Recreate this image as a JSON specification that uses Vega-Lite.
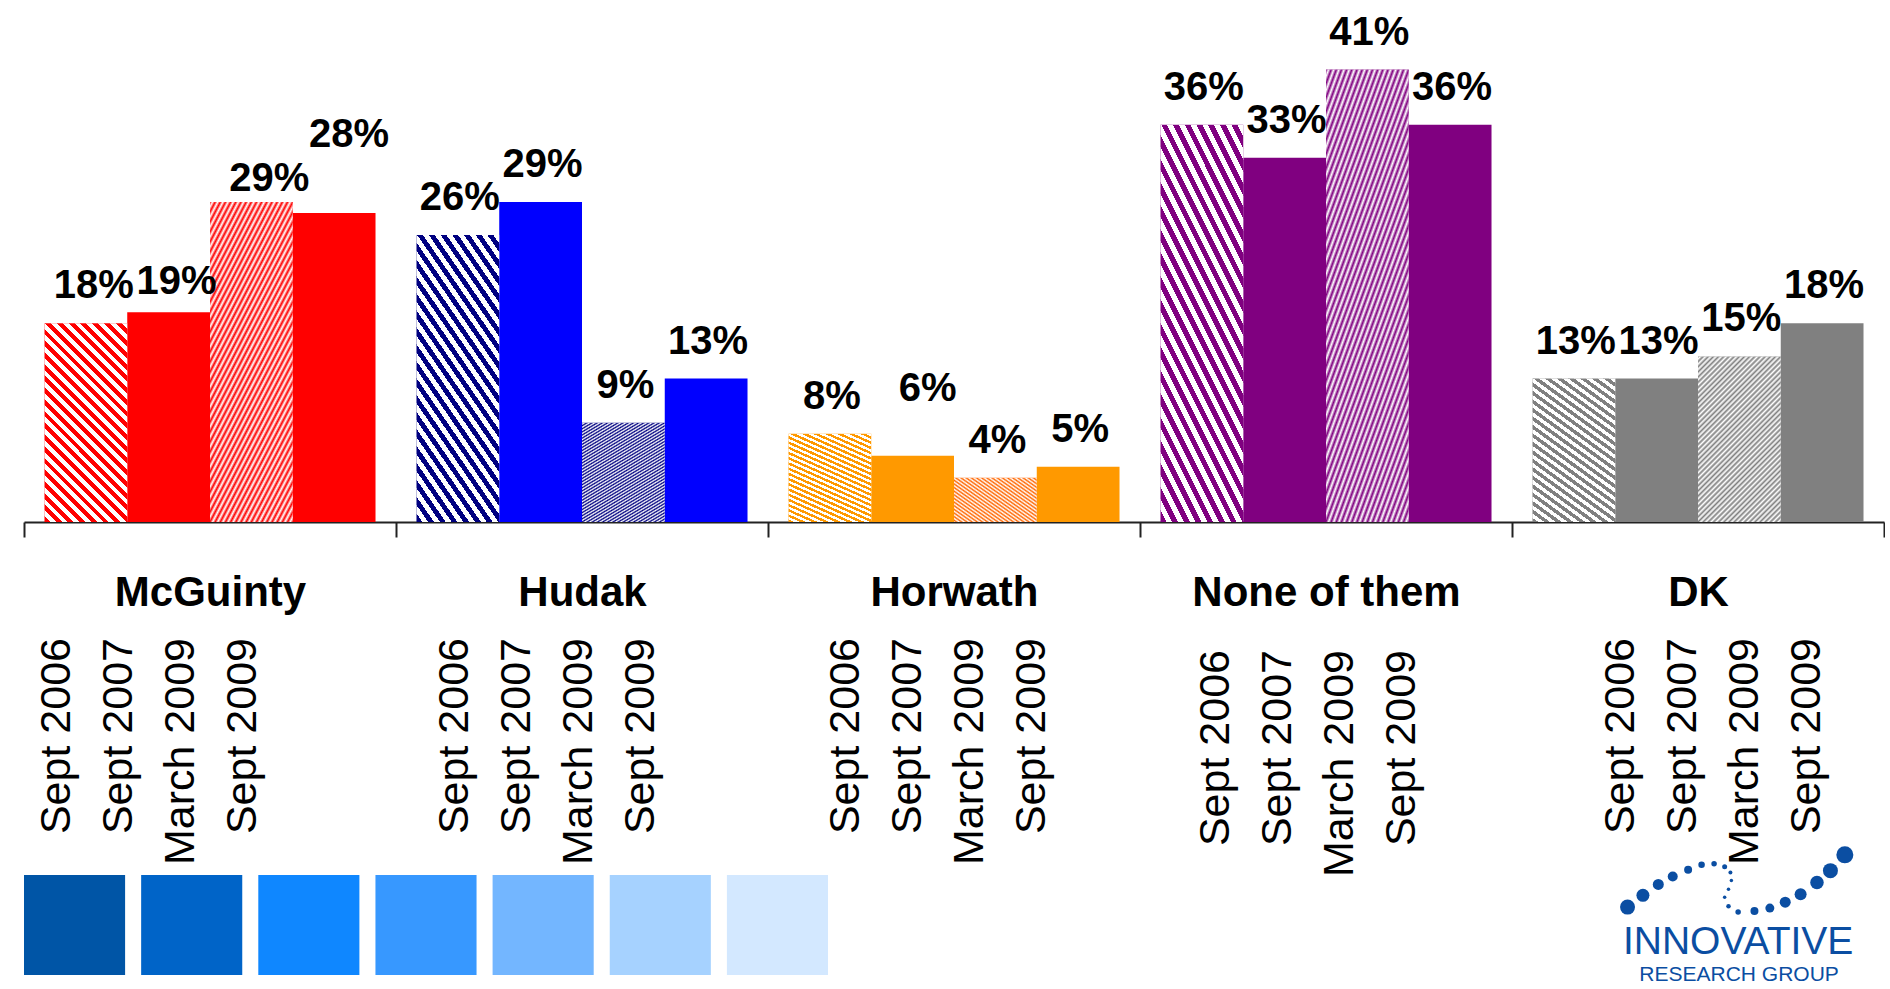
{
  "$schema": "https://vega.github.io/schema/vega-lite/v6.json",
  "background": "white",
  "padding": {"left": 23, "top": 0, "right": 0, "bottom": 0},
  "config": {"view": {"stroke": null}, "font": "Liberation Sans"},
  "datasets": {
    "bars": [
      {"group": "McGuinty", "series": "Sept 2006", "value": 0.18},
      {"group": "McGuinty", "series": "Sept 2007", "value": 0.19},
      {"group": "McGuinty", "series": "March 2009", "value": 0.29},
      {"group": "McGuinty", "series": "Sept 2009", "value": 0.28},
      {"group": "Hudak", "series": "Sept 2006", "value": 0.26},
      {"group": "Hudak", "series": "Sept 2007", "value": 0.29},
      {"group": "Hudak", "series": "March 2009", "value": 0.09},
      {"group": "Hudak", "series": "Sept 2009", "value": 0.13},
      {"group": "Horwath", "series": "Sept 2006", "value": 0.08},
      {"group": "Horwath", "series": "Sept 2007", "value": 0.06},
      {"group": "Horwath", "series": "March 2009", "value": 0.04},
      {"group": "Horwath", "series": "Sept 2009", "value": 0.05},
      {"group": "None of them", "series": "Sept 2006", "value": 0.36},
      {"group": "None of them", "series": "Sept 2007", "value": 0.33},
      {"group": "None of them", "series": "March 2009", "value": 0.41},
      {"group": "None of them", "series": "Sept 2009", "value": 0.36},
      {"group": "DK", "series": "Sept 2006", "value": 0.13},
      {"group": "DK", "series": "Sept 2007", "value": 0.13},
      {"group": "DK", "series": "March 2009", "value": 0.15},
      {"group": "DK", "series": "Sept 2009", "value": 0.18}
    ],
    "squares": [
      {"sq": "1"}, {"sq": "2"}, {"sq": "3"}, {"sq": "4"}, {"sq": "5"}, {"sq": "6"}, {"sq": "7"}
    ],
    "logo": [
      {"x": 12, "y": 62, "d": 15},
      {"x": 28, "y": 50, "d": 13},
      {"x": 44, "y": 39, "d": 11},
      {"x": 59, "y": 31, "d": 10},
      {"x": 75, "y": 24, "d": 8},
      {"x": 89, "y": 19, "d": 6.5},
      {"x": 102, "y": 18, "d": 5.5},
      {"x": 113, "y": 21, "d": 5},
      {"x": 119, "y": 27, "d": 4},
      {"x": 120, "y": 35, "d": 3.5},
      {"x": 117, "y": 44, "d": 3.5},
      {"x": 113, "y": 52, "d": 3.5},
      {"x": 117, "y": 61, "d": 4.5},
      {"x": 127, "y": 67, "d": 5.5},
      {"x": 144, "y": 66, "d": 8},
      {"x": 160, "y": 63, "d": 9},
      {"x": 176, "y": 57, "d": 11},
      {"x": 192, "y": 49, "d": 12},
      {"x": 209, "y": 37, "d": 13.5},
      {"x": 223, "y": 25, "d": 15},
      {"x": 238, "y": 9, "d": 17}
    ]
  },
  "resolve": {"scale": {"x": "independent", "y": "independent", "xOffset": "independent", "color": "independent", "size": "independent"}},
  "spacing": 25,
  "vconcat": [
    {
      "width": 1860,
      "height": 522,
      "data": {"name": "bars"},
      "encoding": {
        "x": {
          "field": "group", "type": "nominal",
          "sort": ["McGuinty", "Hudak", "Horwath", "None of them", "DK"],
          "scale": {"paddingInner": 0, "paddingOuter": 0},
          "axis": {
            "title": null, "labelAngle": 0, "labelFont": "Liberation Sans", "labelFontSize": 42,
            "labelFontWeight": "bold", "labelColor": "#000000", "labelPadding": 35, "labelLimit": 0,
            "tickBand": "extent", "tickSize": 15, "tickColor": "#222222", "tickWidth": 2,
            "domainColor": "#222222", "domainWidth": 2, "grid": false
          }
        },
        "xOffset": {
          "field": "series", "type": "nominal",
          "sort": ["Sept 2006", "Sept 2007", "March 2009", "Sept 2009"],
          "scale": {"paddingInner": 0, "paddingOuter": 0.2475}
        },
        "y": {"field": "value", "type": "quantitative", "scale": {"domain": [0, 0.473]}, "axis": null},
        "text": {"field": "value", "type": "quantitative", "format": ".0%"}
      },
      "layer": [
        {
          "mark": {"type": "bar", "strokeWidth": 0},
          "encoding": {
            "fill": {
              "condition": [
                {"test": "datum.group === 'Hudak' && (datum.series === 'Sept 2006' || datum.series === 'March 2009')", "value": "#000080"},
                {"test": "datum.group === 'Horwath' && datum.series === 'March 2009'", "value": "#FF6600"}
              ],
              "field": "group", "type": "nominal",
              "scale": {"domain": ["McGuinty", "Hudak", "Horwath", "None of them", "DK"], "range": ["#FF0000", "#0000FF", "#FF9900", "#800080", "#808080"]},
              "legend": null
            }
          }
        },
        {
          "mark": {"type": "bar", "strokeWidth": 0},
          "encoding": {
            "fill": {
              "condition": [
                {"test": "datum.series === 'Sept 2006'", "value": {"gradient": "linear", "x1": 0, "y1": 1, "x2": 0.503, "y2": -0.207, "stops": [
                  {"offset": 0, "color": "rgba(255,255,255,0)"}, {"offset": 0.020833, "color": "rgba(255,255,255,0)"},
                  {"offset": 0.020833, "color": "#ffffff"}, {"offset": 0.041667, "color": "#ffffff"},
                  {"offset": 0.041667, "color": "rgba(255,255,255,0)"}, {"offset": 0.0625, "color": "rgba(255,255,255,0)"},
                  {"offset": 0.0625, "color": "#ffffff"}, {"offset": 0.083333, "color": "#ffffff"},
                  {"offset": 0.083333, "color": "rgba(255,255,255,0)"}, {"offset": 0.104167, "color": "rgba(255,255,255,0)"},
                  {"offset": 0.104167, "color": "#ffffff"}, {"offset": 0.125, "color": "#ffffff"},
                  {"offset": 0.125, "color": "rgba(255,255,255,0)"}, {"offset": 0.145833, "color": "rgba(255,255,255,0)"},
                  {"offset": 0.145833, "color": "#ffffff"}, {"offset": 0.166667, "color": "#ffffff"},
                  {"offset": 0.166667, "color": "rgba(255,255,255,0)"}, {"offset": 0.1875, "color": "rgba(255,255,255,0)"},
                  {"offset": 0.1875, "color": "#ffffff"}, {"offset": 0.208333, "color": "#ffffff"},
                  {"offset": 0.208333, "color": "rgba(255,255,255,0)"}, {"offset": 0.229167, "color": "rgba(255,255,255,0)"},
                  {"offset": 0.229167, "color": "#ffffff"}, {"offset": 0.25, "color": "#ffffff"},
                  {"offset": 0.25, "color": "rgba(255,255,255,0)"}, {"offset": 0.270833, "color": "rgba(255,255,255,0)"},
                  {"offset": 0.270833, "color": "#ffffff"}, {"offset": 0.291667, "color": "#ffffff"},
                  {"offset": 0.291667, "color": "rgba(255,255,255,0)"}, {"offset": 0.3125, "color": "rgba(255,255,255,0)"},
                  {"offset": 0.3125, "color": "#ffffff"}, {"offset": 0.333333, "color": "#ffffff"},
                  {"offset": 0.333333, "color": "rgba(255,255,255,0)"}, {"offset": 0.354167, "color": "rgba(255,255,255,0)"},
                  {"offset": 0.354167, "color": "#ffffff"}, {"offset": 0.375, "color": "#ffffff"},
                  {"offset": 0.375, "color": "rgba(255,255,255,0)"}, {"offset": 0.395833, "color": "rgba(255,255,255,0)"},
                  {"offset": 0.395833, "color": "#ffffff"}, {"offset": 0.416667, "color": "#ffffff"},
                  {"offset": 0.416667, "color": "rgba(255,255,255,0)"}, {"offset": 0.4375, "color": "rgba(255,255,255,0)"},
                  {"offset": 0.4375, "color": "#ffffff"}, {"offset": 0.458333, "color": "#ffffff"},
                  {"offset": 0.458333, "color": "rgba(255,255,255,0)"}, {"offset": 0.479167, "color": "rgba(255,255,255,0)"},
                  {"offset": 0.479167, "color": "#ffffff"}, {"offset": 0.5, "color": "#ffffff"},
                  {"offset": 0.5, "color": "rgba(255,255,255,0)"}, {"offset": 0.520833, "color": "rgba(255,255,255,0)"},
                  {"offset": 0.520833, "color": "#ffffff"}, {"offset": 0.541667, "color": "#ffffff"},
                  {"offset": 0.541667, "color": "rgba(255,255,255,0)"}, {"offset": 0.5625, "color": "rgba(255,255,255,0)"},
                  {"offset": 0.5625, "color": "#ffffff"}, {"offset": 0.583333, "color": "#ffffff"},
                  {"offset": 0.583333, "color": "rgba(255,255,255,0)"}, {"offset": 0.604167, "color": "rgba(255,255,255,0)"},
                  {"offset": 0.604167, "color": "#ffffff"}, {"offset": 0.625, "color": "#ffffff"},
                  {"offset": 0.625, "color": "rgba(255,255,255,0)"}, {"offset": 0.645833, "color": "rgba(255,255,255,0)"},
                  {"offset": 0.645833, "color": "#ffffff"}, {"offset": 0.666667, "color": "#ffffff"},
                  {"offset": 0.666667, "color": "rgba(255,255,255,0)"}, {"offset": 0.6875, "color": "rgba(255,255,255,0)"},
                  {"offset": 0.6875, "color": "#ffffff"}, {"offset": 0.708333, "color": "#ffffff"},
                  {"offset": 0.708333, "color": "rgba(255,255,255,0)"}, {"offset": 0.729167, "color": "rgba(255,255,255,0)"},
                  {"offset": 0.729167, "color": "#ffffff"}, {"offset": 0.75, "color": "#ffffff"},
                  {"offset": 0.75, "color": "rgba(255,255,255,0)"}, {"offset": 0.770833, "color": "rgba(255,255,255,0)"},
                  {"offset": 0.770833, "color": "#ffffff"}, {"offset": 0.791667, "color": "#ffffff"},
                  {"offset": 0.791667, "color": "rgba(255,255,255,0)"}, {"offset": 0.8125, "color": "rgba(255,255,255,0)"},
                  {"offset": 0.8125, "color": "#ffffff"}, {"offset": 0.833333, "color": "#ffffff"},
                  {"offset": 0.833333, "color": "rgba(255,255,255,0)"}, {"offset": 0.854167, "color": "rgba(255,255,255,0)"},
                  {"offset": 0.854167, "color": "#ffffff"}, {"offset": 0.875, "color": "#ffffff"},
                  {"offset": 0.875, "color": "rgba(255,255,255,0)"}, {"offset": 0.895833, "color": "rgba(255,255,255,0)"},
                  {"offset": 0.895833, "color": "#ffffff"}, {"offset": 0.916667, "color": "#ffffff"},
                  {"offset": 0.916667, "color": "rgba(255,255,255,0)"}, {"offset": 0.9375, "color": "rgba(255,255,255,0)"},
                  {"offset": 0.9375, "color": "#ffffff"}, {"offset": 0.958333, "color": "#ffffff"},
                  {"offset": 0.958333, "color": "rgba(255,255,255,0)"}, {"offset": 0.979167, "color": "rgba(255,255,255,0)"},
                  {"offset": 0.979167, "color": "#ffffff"}, {"offset": 1, "color": "#ffffff"}
                ]}},
                {"test": "datum.series === 'March 2009'", "value": {"gradient": "linear", "x1": 0, "y1": 0, "x2": 0.6, "y2": 1.2, "stops": [
                  {"offset": 0, "color": "rgba(255,255,255,0)"}, {"offset": 0.0104, "color": "#ffffff"},
                  {"offset": 0.0208, "color": "rgba(255,255,255,0)"}, {"offset": 0.0313, "color": "#ffffff"},
                  {"offset": 0.0417, "color": "rgba(255,255,255,0)"}, {"offset": 0.0521, "color": "#ffffff"},
                  {"offset": 0.0625, "color": "rgba(255,255,255,0)"}, {"offset": 0.0729, "color": "#ffffff"},
                  {"offset": 0.0833, "color": "rgba(255,255,255,0)"}, {"offset": 0.0938, "color": "#ffffff"},
                  {"offset": 0.1042, "color": "rgba(255,255,255,0)"}, {"offset": 0.1146, "color": "#ffffff"},
                  {"offset": 0.125, "color": "rgba(255,255,255,0)"}, {"offset": 0.1354, "color": "#ffffff"},
                  {"offset": 0.1458, "color": "rgba(255,255,255,0)"}, {"offset": 0.1563, "color": "#ffffff"},
                  {"offset": 0.1667, "color": "rgba(255,255,255,0)"}, {"offset": 0.1771, "color": "#ffffff"},
                  {"offset": 0.1875, "color": "rgba(255,255,255,0)"}, {"offset": 0.1979, "color": "#ffffff"},
                  {"offset": 0.2083, "color": "rgba(255,255,255,0)"}, {"offset": 0.2188, "color": "#ffffff"},
                  {"offset": 0.2292, "color": "rgba(255,255,255,0)"}, {"offset": 0.2396, "color": "#ffffff"},
                  {"offset": 0.25, "color": "rgba(255,255,255,0)"}, {"offset": 0.2604, "color": "#ffffff"},
                  {"offset": 0.2708, "color": "rgba(255,255,255,0)"}, {"offset": 0.2813, "color": "#ffffff"},
                  {"offset": 0.2917, "color": "rgba(255,255,255,0)"}, {"offset": 0.3021, "color": "#ffffff"},
                  {"offset": 0.3125, "color": "rgba(255,255,255,0)"}, {"offset": 0.3229, "color": "#ffffff"},
                  {"offset": 0.3333, "color": "rgba(255,255,255,0)"}, {"offset": 0.3438, "color": "#ffffff"},
                  {"offset": 0.3542, "color": "rgba(255,255,255,0)"}, {"offset": 0.3646, "color": "#ffffff"},
                  {"offset": 0.375, "color": "rgba(255,255,255,0)"}, {"offset": 0.3854, "color": "#ffffff"},
                  {"offset": 0.3958, "color": "rgba(255,255,255,0)"}, {"offset": 0.4063, "color": "#ffffff"},
                  {"offset": 0.4167, "color": "rgba(255,255,255,0)"}, {"offset": 0.4271, "color": "#ffffff"},
                  {"offset": 0.4375, "color": "rgba(255,255,255,0)"}, {"offset": 0.4479, "color": "#ffffff"},
                  {"offset": 0.4583, "color": "rgba(255,255,255,0)"}, {"offset": 0.4688, "color": "#ffffff"},
                  {"offset": 0.4792, "color": "rgba(255,255,255,0)"}, {"offset": 0.4896, "color": "#ffffff"},
                  {"offset": 0.5, "color": "rgba(255,255,255,0)"}, {"offset": 0.5104, "color": "#ffffff"},
                  {"offset": 0.5208, "color": "rgba(255,255,255,0)"}, {"offset": 0.5313, "color": "#ffffff"},
                  {"offset": 0.5417, "color": "rgba(255,255,255,0)"}, {"offset": 0.5521, "color": "#ffffff"},
                  {"offset": 0.5625, "color": "rgba(255,255,255,0)"}, {"offset": 0.5729, "color": "#ffffff"},
                  {"offset": 0.5833, "color": "rgba(255,255,255,0)"}, {"offset": 0.5938, "color": "#ffffff"},
                  {"offset": 0.6042, "color": "rgba(255,255,255,0)"}, {"offset": 0.6146, "color": "#ffffff"},
                  {"offset": 0.625, "color": "rgba(255,255,255,0)"}, {"offset": 0.6354, "color": "#ffffff"},
                  {"offset": 0.6458, "color": "rgba(255,255,255,0)"}, {"offset": 0.6563, "color": "#ffffff"},
                  {"offset": 0.6667, "color": "rgba(255,255,255,0)"}, {"offset": 0.6771, "color": "#ffffff"},
                  {"offset": 0.6875, "color": "rgba(255,255,255,0)"}, {"offset": 0.6979, "color": "#ffffff"},
                  {"offset": 0.7083, "color": "rgba(255,255,255,0)"}, {"offset": 0.7188, "color": "#ffffff"},
                  {"offset": 0.7292, "color": "rgba(255,255,255,0)"}, {"offset": 0.7396, "color": "#ffffff"},
                  {"offset": 0.75, "color": "rgba(255,255,255,0)"}, {"offset": 0.7604, "color": "#ffffff"},
                  {"offset": 0.7708, "color": "rgba(255,255,255,0)"}, {"offset": 0.7813, "color": "#ffffff"},
                  {"offset": 0.7917, "color": "rgba(255,255,255,0)"}, {"offset": 0.8021, "color": "#ffffff"},
                  {"offset": 0.8125, "color": "rgba(255,255,255,0)"}, {"offset": 0.8229, "color": "#ffffff"},
                  {"offset": 0.8333, "color": "rgba(255,255,255,0)"}, {"offset": 0.8438, "color": "#ffffff"},
                  {"offset": 0.8542, "color": "rgba(255,255,255,0)"}, {"offset": 0.8646, "color": "#ffffff"},
                  {"offset": 0.875, "color": "rgba(255,255,255,0)"}, {"offset": 0.8854, "color": "#ffffff"},
                  {"offset": 0.8958, "color": "rgba(255,255,255,0)"}, {"offset": 0.9063, "color": "#ffffff"},
                  {"offset": 0.9167, "color": "rgba(255,255,255,0)"}, {"offset": 0.9271, "color": "#ffffff"},
                  {"offset": 0.9375, "color": "rgba(255,255,255,0)"}, {"offset": 0.9479, "color": "#ffffff"},
                  {"offset": 0.9583, "color": "rgba(255,255,255,0)"}, {"offset": 0.9688, "color": "#ffffff"},
                  {"offset": 0.9792, "color": "rgba(255,255,255,0)"}, {"offset": 0.9896, "color": "#ffffff"},
                  {"offset": 1, "color": "rgba(255,255,255,0)"}
                ]}}
              ],
              "value": "rgba(255,255,255,0)"
            }
          }
        },
        {
          "transform": [{"filter": "datum.group !== 'McGuinty' && !(datum.group === 'Horwath' && datum.series === 'Sept 2007')"}],
          "mark": {"type": "text", "font": "Liberation Sans", "fontSize": 40, "fontWeight": "bold", "color": "#000000", "baseline": "alphabetic", "align": "center", "dy": -25, "dx": 2}
        },
        {
          "transform": [{"filter": "datum.group === 'McGuinty' && datum.series === 'Sept 2006'"}],
          "mark": {"type": "text", "font": "Liberation Sans", "fontSize": 40, "fontWeight": "bold", "color": "#000000", "baseline": "alphabetic", "align": "center", "dy": -25, "dx": 8}
        },
        {
          "transform": [{"filter": "datum.group === 'McGuinty' && datum.series === 'Sept 2007'"}],
          "mark": {"type": "text", "font": "Liberation Sans", "fontSize": 40, "fontWeight": "bold", "color": "#000000", "baseline": "alphabetic", "align": "center", "dy": -18, "dx": 8}
        },
        {
          "transform": [{"filter": "datum.group === 'McGuinty' && datum.series === 'March 2009'"}],
          "mark": {"type": "text", "font": "Liberation Sans", "fontSize": 40, "fontWeight": "bold", "color": "#000000", "baseline": "alphabetic", "align": "center", "dy": -11, "dx": 18}
        },
        {
          "transform": [{"filter": "datum.group === 'McGuinty' && datum.series === 'Sept 2009'"}],
          "mark": {"type": "text", "font": "Liberation Sans", "fontSize": 40, "fontWeight": "bold", "color": "#000000", "baseline": "alphabetic", "align": "center", "dy": -66, "dx": 15}
        },
        {
          "transform": [{"filter": "datum.group === 'Horwath' && datum.series === 'Sept 2007'"}],
          "mark": {"type": "text", "font": "Liberation Sans", "fontSize": 40, "fontWeight": "bold", "color": "#000000", "baseline": "alphabetic", "align": "center", "dy": -55, "dx": 15}
        }
      ]
    },
    {
      "resolve": {"scale": {"x": "independent", "y": "independent", "color": "independent", "size": "independent"}},
      "bounds": "flush",
      "spacing": 208,
      "vconcat": [
        {
          "data": {"name": "bars"},
          "facet": {"column": {"field": "group", "type": "nominal", "sort": ["McGuinty", "Hudak", "Horwath", "None of them", "DK"], "header": null}},
          "spacing": 0,
          "bounds": "flush",
          "spec": {
            "width": 372,
            "height": 10,
            "encoding": {
              "x": {"field": "series", "type": "nominal", "scale": {"domain": ["pad1", "Sept 2006", "Sept 2007", "March 2009", "Sept 2009", "pad2"], "paddingInner": 0, "paddingOuter": 0}, "axis": null},
              "y": {"datum": 1, "type": "quantitative", "scale": {"domain": [0, 1]}, "axis": null},
              "text": {"field": "series", "type": "nominal"}
            },
            "layer": [
              {"transform": [{"filter": "datum.group === 'McGuinty'"}], "mark": {"type": "text", "angle": 270, "align": "right", "baseline": "middle", "font": "Liberation Sans", "fontSize": 43, "color": "#000000", "dy": -60}},
              {"transform": [{"filter": "datum.group === 'Hudak'"}], "mark": {"type": "text", "angle": 270, "align": "right", "baseline": "middle", "font": "Liberation Sans", "fontSize": 43, "color": "#000000", "dy": -34}},
              {"transform": [{"filter": "datum.group === 'Horwath'"}], "mark": {"type": "text", "angle": 270, "align": "right", "baseline": "middle", "font": "Liberation Sans", "fontSize": 43, "color": "#000000", "dy": -15}},
              {"transform": [{"filter": "datum.group === 'None of them'"}], "mark": {"type": "text", "angle": 270, "align": "right", "baseline": "middle", "font": "Liberation Sans", "fontSize": 43, "color": "#000000", "dy": -17, "dx": -12}},
              {"transform": [{"filter": "datum.group === 'DK'"}], "mark": {"type": "text", "angle": 270, "align": "right", "baseline": "middle", "font": "Liberation Sans", "fontSize": 43, "color": "#000000", "dy": 16}}
            ]
          }
        },
        {
          "resolve": {"scale": {"x": "independent", "y": "independent", "color": "independent", "size": "independent"}},
          "spacing": 787,
          "hconcat": [
            {
              "width": 804,
              "height": 129,
              "data": {"name": "squares"},
              "mark": {"type": "bar", "strokeWidth": 0},
              "encoding": {
                "x": {"field": "sq", "type": "nominal", "scale": {"paddingInner": 0.137, "paddingOuter": 0}, "axis": null},
                "y": {"datum": "s", "type": "nominal", "scale": {"paddingInner": 0, "paddingOuter": 0.145, "align": 1}, "axis": null},
                "color": {"field": "sq", "type": "nominal", "scale": {"domain": ["1", "2", "3", "4", "5", "6", "7"], "range": ["#0055A6", "#0064C8", "#0F87FF", "#3798FF", "#73B6FF", "#A6D2FF", "#D3E8FF"]}, "legend": null}
              }
            },
            {
              "width": 250,
              "height": 138,
              "layer": [
                {
                  "data": {"name": "logo"},
                  "mark": {"type": "circle", "opacity": 1, "color": "#0B4EA2"},
                  "encoding": {
                    "x": {"field": "x", "type": "quantitative", "scale": {"domain": [0, 250]}, "axis": null},
                    "y": {"field": "y", "type": "quantitative", "scale": {"domain": [0, 138], "reverse": true}, "axis": null},
                    "size": {"field": "d", "type": "quantitative", "scale": {"type": "pow", "exponent": 2, "domain": [0, 17], "range": [0, 289]}, "legend": null}
                  }
                },
                {
                  "data": {"values": [{}]},
                  "mark": {"type": "text", "text": "INNOVATIVE", "font": "Liberation Sans", "fontSize": 39, "color": "#0B4EA2", "align": "center", "baseline": "alphabetic"},
                  "encoding": {
                    "x": {"datum": 127, "type": "quantitative", "axis": null},
                    "y": {"datum": 110, "type": "quantitative", "axis": null}
                  }
                },
                {
                  "data": {"values": [{}]},
                  "mark": {"type": "text", "text": "RESEARCH GROUP", "font": "Liberation Sans", "fontSize": 21, "color": "#0B4EA2", "align": "center", "baseline": "alphabetic"},
                  "encoding": {
                    "x": {"datum": 128, "type": "quantitative", "axis": null},
                    "y": {"datum": 137, "type": "quantitative", "axis": null}
                  }
                }
              ]
            }
          ]
        }
      ]
    }
  ]
}
